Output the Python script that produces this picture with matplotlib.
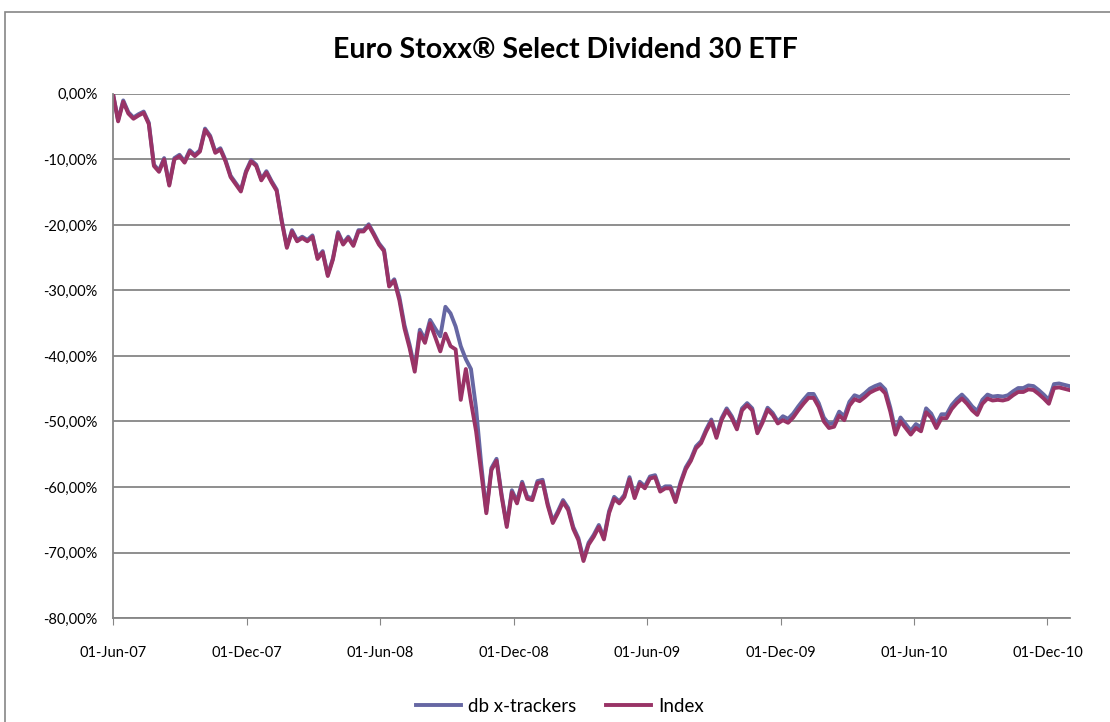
import matplotlib
matplotlib.use('Agg')
import matplotlib.pyplot as plt
import matplotlib.dates as mdates
from matplotlib.ticker import FuncFormatter, MultipleLocator
from matplotlib.patches import Rectangle
import pandas as pd

# Weekly readings (performance since 01-Jun-07, in %)
start_date = '2007-06-01'

index_values = [
    0.0, -4.2, -1.2, -3.0, -3.8, -3.3, -2.9, -4.6, -11.0, -11.9,
    -10.0, -14.0, -10.0, -9.5, -10.5, -8.8, -9.5, -8.8, -5.5, -6.6,
    -9.0, -8.5, -10.3, -12.7, -13.8, -14.9, -12.0, -10.3, -11.0, -13.2,
    -12.0, -13.5, -14.8, -19.5, -23.5, -21.0, -22.5, -22.0, -22.5, -21.8,
    -25.2, -24.2, -27.8, -25.3, -21.3, -23.0, -22.0, -23.2, -21.0, -21.0,
    -20.1, -21.5, -23.0, -24.0, -29.4, -28.5, -31.5, -35.8, -38.8, -42.4,
    -36.5, -38.0, -35.0, -37.1, -39.3, -36.6, -38.5, -39.0, -46.7, -42.0,
    -47.0, -51.5, -57.7, -64.0, -57.4, -56.0, -61.5, -66.1, -60.8, -62.5,
    -59.5, -61.8, -62.0, -59.4, -59.2, -62.8, -65.5, -64.0, -62.3, -63.5,
    -66.4, -68.1, -71.3, -68.8, -67.6, -66.1, -68.0, -64.0, -61.8, -62.5,
    -61.5, -58.8, -61.7, -59.5, -60.2, -58.7, -58.5, -60.7, -60.2, -60.2,
    -62.3, -59.5, -57.3, -56.0, -54.1, -53.3, -51.5, -50.0, -52.5, -49.8,
    -48.3, -49.5, -51.2, -48.3, -47.5, -48.3, -51.8, -50.2, -48.2, -49.0,
    -50.3, -49.8, -50.2, -49.4, -48.3, -47.3, -46.4, -46.4, -47.8, -50.0,
    -51.0, -50.8, -49.1, -49.8, -47.6, -46.6, -46.9, -46.3, -45.6, -45.2,
    -44.9, -45.7, -48.5, -52.0, -50.0, -51.0, -52.0, -51.0, -51.5, -48.6,
    -49.4, -51.0, -49.5, -49.5, -48.1, -47.2, -46.5, -47.3, -48.3, -49.0,
    -47.3, -46.5, -46.8, -46.7, -46.8, -46.6, -46.0, -45.5, -45.5, -45.1,
    -45.2, -45.8, -46.5, -47.3, -44.9, -44.8, -45.0, -45.2,
]

etf_values = [
    0.0, -4.0, -1.0, -2.8, -3.6, -3.1, -2.7, -4.4, -10.8, -11.7,
    -9.8, -13.8, -9.8, -9.3, -10.3, -8.6, -9.3, -8.6, -5.3, -6.4,
    -8.8, -8.3, -10.1, -12.5, -13.6, -14.7, -11.8, -10.1, -10.8, -13.0,
    -11.8, -13.3, -14.6, -19.3, -23.3, -20.8, -22.3, -21.8, -22.3, -21.6,
    -25.0, -24.0, -27.6, -25.1, -21.1, -22.8, -21.8, -23.0, -20.8, -20.8,
    -19.9, -21.3, -22.8, -23.8, -29.2, -28.3, -31.0, -35.3, -38.3, -41.9,
    -36.0, -37.5, -34.5, -35.8, -37.0, -32.5, -33.5, -35.5, -38.5, -40.5,
    -42.0, -48.0, -56.5, -63.7, -57.1, -55.7, -61.2, -65.8, -60.5, -62.2,
    -59.2, -61.5, -61.7, -59.1, -58.9, -62.5, -65.2, -63.7, -62.0, -63.2,
    -66.1, -67.8, -71.0, -68.5, -67.3, -65.8, -67.7, -63.7, -61.5, -62.2,
    -61.2, -58.5, -61.4, -59.2, -59.9, -58.4, -58.2, -60.4, -59.9, -59.9,
    -62.0, -59.2, -57.0, -55.7, -53.8, -53.0, -51.2, -49.7, -52.2, -49.5,
    -48.0, -49.2, -50.9, -48.0, -47.2, -48.0, -51.5, -49.9, -47.9, -48.7,
    -50.0, -49.2, -49.6, -48.8, -47.7, -46.7, -45.8, -45.8, -47.2, -49.4,
    -50.4, -50.2, -48.5, -49.2, -47.0, -46.0, -46.3, -45.7, -45.0, -44.6,
    -44.3, -45.1, -47.9, -51.4, -49.4, -50.4, -51.4, -50.4, -50.9, -48.0,
    -48.8, -50.4, -48.9, -48.9, -47.5, -46.6, -45.9, -46.7, -47.7, -48.4,
    -46.7, -45.9, -46.2, -46.1, -46.2, -46.0, -45.4, -44.9, -44.9, -44.5,
    -44.6, -45.2, -45.9, -46.7, -44.3, -44.2, -44.4, -44.6,
]

tick_dates = ['2007-06-01', '2007-12-01', '2008-06-01', '2008-12-01',
              '2009-06-01', '2009-12-01', '2010-06-01', '2010-12-01']

dates = pd.date_range(start_date, periods=len(index_values), freq='7D')

plt.rcParams['font.family'] = ['Lato', 'DejaVu Sans']

fig = plt.figure(figsize=(11.1, 7.22), dpi=100, facecolor='white')
ax = fig.add_axes([0.1018, 0.144, 0.8622, 0.726])

# chart area border (cut off on right and bottom like the original)
fig.patches.append(Rectangle((5 / 1110, -0.05), 1.2, 1 - 12 / 722 + 0.05,
                             transform=fig.transFigure, fill=False,
                             edgecolor='#868686', linewidth=1.2))

ax.plot(dates, etf_values, color='#6667a3', linewidth=2.8, label='db x-trackers')
ax.plot(dates, index_values, color='#993366', linewidth=2.8, label='Index')

ax.set_ylim(-80, 0)
ax.set_xlim(pd.Timestamp('2007-06-01'), pd.Timestamp('2011-01-01'))
ax.yaxis.set_major_locator(MultipleLocator(10))
ax.yaxis.set_major_formatter(FuncFormatter(lambda v, p: f'{v:.2f}%'.replace('.', ',')))
ax.set_xticks(pd.to_datetime(tick_dates))
ax.xaxis.set_major_formatter(mdates.DateFormatter('%d-%b-%y'))

ax.grid(axis='y', color='#868686', linewidth=1.3)
ax.set_axisbelow(True)
for side in ['top', 'right']:
    ax.spines[side].set_visible(False)
for side in ['left', 'bottom']:
    ax.spines[side].set_color('#868686')
    ax.spines[side].set_linewidth(1.3)
ax.tick_params(axis='y', labelsize=10.5, colors='black', length=0, pad=11)
ax.tick_params(axis='x', labelsize=10.5, labelcolor='black', length=5,
               color='#868686', pad=15)

fig.text(565 / 1110, 1 - 50 / 722, 'Euro Stoxx® Select Dividend 30 ETF',
         ha='center', va='center', fontsize=20.5, fontweight='bold')

fig.legend(loc='center', bbox_to_anchor=(560 / 1110, 1 - 706 / 722), ncol=2,
           frameon=False, fontsize=13.5, handlelength=2.4, columnspacing=1.6,
           handletextpad=0.4)

plt.savefig('out.png', dpi=100)
plt.close()
